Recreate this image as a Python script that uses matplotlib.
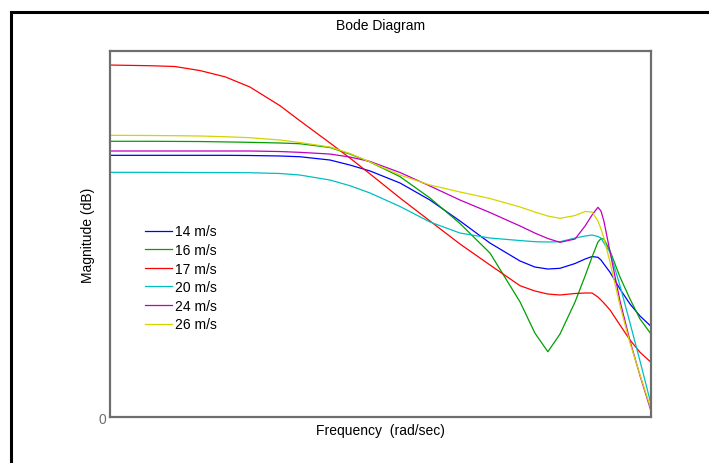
import numpy as np
import matplotlib
matplotlib.use('Agg')
import matplotlib.pyplot as plt
from matplotlib.patches import Rectangle

plt.rcParams['font.family'] = ['Liberation Sans', 'DejaVu Sans']

# Frequency grid (rad/sec) shared by all curves
freq = [0.1, 0.167, 0.229, 0.315, 0.435, 0.597, 0.877, 1.13, 1.66, 2.14, 2.77, 4.06,
        5.95, 8.73, 12.8, 18.8, 22.7, 26.8, 31.3, 37.9, 43.1, 47.1, 50.8, 52.8, 54.8,
        59.3, 67.3, 76.5, 86.9, 100]

# Magnitude (dB), one list per wind speed
mag_14 = [42.9, 42.9, 42.9, 42.9, 42.9, 42.87, 42.79, 42.67, 42.13, 41.31, 40.33, 38.36,
          35.57, 32.13, 28.52, 25.57, 24.59, 24.26, 24.38, 25.16, 25.9, 26.31, 26.18,
          25.74, 25.08, 23.72, 20.98, 18.52, 16.56, 14.87]
mag_16 = [45.2, 45.2, 45.18, 45.16, 45.1, 45.03, 44.92, 44.8, 44.18, 43.11, 41.8, 39.4,
          35.9, 31.72, 26.88, 18.85, 13.77, 10.7, 13.61, 18.85, 23.11, 26.23, 28.69,
          29.26, 29.18, 27.21, 22.95, 19.34, 16.07, 13.61]
mag_17 = [57.7, 57.59, 57.46, 56.8, 55.77, 54.1, 51.03, 48.57, 44.92, 42.46, 39.84, 35.9,
          32.13, 28.36, 24.92, 21.52, 20.66, 20.16, 20.0, 20.25, 20.33, 20.33, 19.67,
          19.18, 18.69, 17.54, 15.08, 12.62, 10.61, 8.97]
mag_20 = [40.11, 40.11, 40.1, 40.08, 40.07, 40.05, 39.92, 39.67, 38.85, 37.92, 36.72,
          34.51, 31.97, 30.16, 29.34, 28.93, 28.74, 28.69, 28.74, 29.34, 29.67, 29.84,
          29.59, 29.34, 28.52, 27.0, 21.52, 15.41, 9.18, 2.13]
mag_24 = [43.61, 43.61, 43.61, 43.61, 43.61, 43.61, 43.52, 43.39, 43.11, 42.62, 41.89,
          40.08, 37.87, 35.57, 33.52, 31.31, 30.16, 29.26, 28.64, 29.18, 31.31, 33.11,
          34.38, 33.77, 32.13, 27.05, 19.02, 12.46, 6.77, 0.98]
mag_26 = [46.18, 46.15, 46.12, 46.07, 45.95, 45.79, 45.41, 45.0, 44.26, 43.2, 41.8,
          39.67, 38.03, 36.89, 35.82, 34.43, 33.61, 32.95, 32.57, 33.03, 33.69, 33.61,
          32.13, 30.82, 29.34, 25.36, 18.25, 12.13, 6.89, 1.31]

labels = ['14 m/s', '16 m/s', '17 m/s', '20 m/s', '24 m/s', '26 m/s']
colors = ['#0000ff', '#00a000', '#ff0000', '#00bfbf', '#bf00bf', '#d4d400']
series = [mag_14, mag_16, mag_17, mag_20, mag_24, mag_26]

fig = plt.figure(figsize=(7.09, 4.64), dpi=100)
ax = fig.add_axes([0.1551, 0.0991, 0.7631, 0.7888])

for m, lab, c in zip(series, labels, colors):
    ax.plot(freq, m, color=c, lw=0.9, label=lab)

ax.set_xscale('log')
ax.set_xlim(0.1, 100)
ax.set_ylim(0, 60)
ax.set_xticks([])
ax.set_xticks([], minor=True)
ax.set_yticks([0])
ax.tick_params(axis='y', length=0, colors='#6e6e6e', labelsize=10, pad=3)

for s in ax.spines.values():
    s.set_color('#6e6e6e')
    s.set_linewidth(1.6)

ax.set_title('Bode Diagram', fontsize=10, pad=15.5)
ax.set_xlabel('Frequency  (rad/sec)', fontsize=10, labelpad=4)
ax.set_ylabel('Magnitude (dB)', fontsize=10, labelpad=2)

ax.legend(loc='upper left', bbox_to_anchor=(0.051, 0.545), frameon=False,
          fontsize=10, handlelength=2.0, handletextpad=0.2, labelspacing=0.33,
          borderpad=0)

# outer black frame (continues past right and bottom edges)
fig.patches.append(Rectangle((11 / 709, -0.1), 1.2, 1 - 13 / 464 + 0.1,
                             transform=fig.transFigure, fill=False,
                             edgecolor='black', linewidth=2.2))

fig.savefig('out.png', dpi=100)
